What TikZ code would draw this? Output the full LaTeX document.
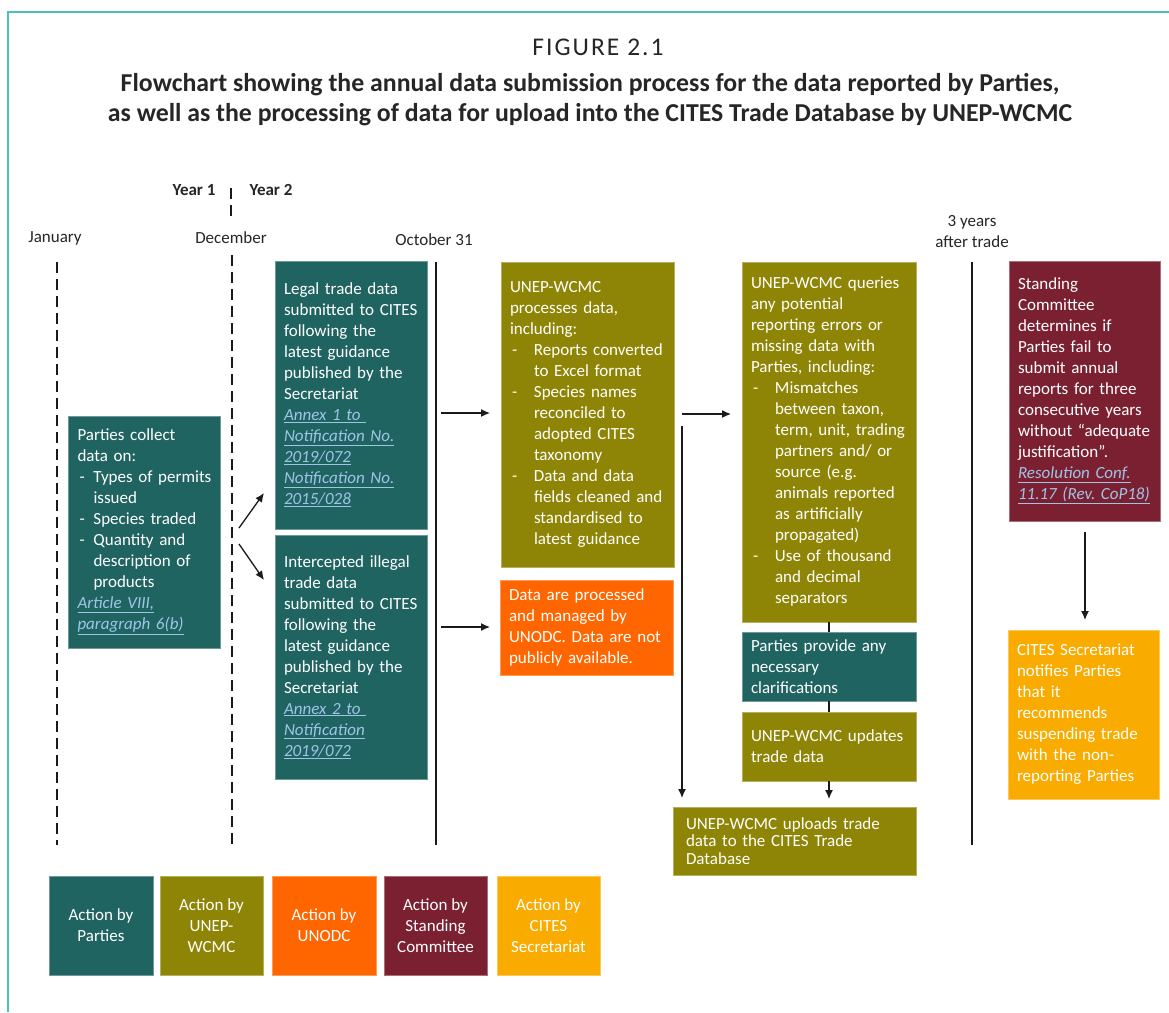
\documentclass[tikz,border=0pt]{standalone}
\usepackage{fontspec}
\setmainfont{Carlito}
\usetikzlibrary{arrows.meta}
\definecolor{cteal}{HTML}{1F6461}
\definecolor{colive}{HTML}{8E8506}
\definecolor{corange}{HTML}{FF6600}
\definecolor{cmaroon}{HTML}{7B2031}
\definecolor{camber}{HTML}{F9AB00}
\definecolor{clink}{HTML}{A0C4E8}
\definecolor{cborder}{HTML}{4FBFBA}
\definecolor{cline}{HTML}{1A1A1A}
\definecolor{ctext}{HTML}{262626}
\newcommand\bodyfont{\fontsize{17}{21}\selectfont}
\newcommand\itm[2][24pt]{\par\noindent\hangindent=#1\hangafter=1\makebox[#1][l]{\hspace{2pt}-}{\let\\\newline #2}\par}
\newcommand\lnk[1]{{\color{clink}\itshape\underline{#1}}}
\setlength\parskip{0pt}
\hyphenpenalty=10000
\exhyphenpenalty=10000
\frenchspacing
\begin{document}
\begin{tikzpicture}[x=1pt,y=-1pt,
  box/.style={rectangle, inner xsep=9pt, inner ysep=0pt, align=left, text=white, font=\bodyfont, line width=0.6pt},
  tealbox/.style={box, fill=cteal, draw=cteal!65!white},
  olivebox/.style={box, fill=colive, draw=colive!65!white},
  orangebox/.style={box, fill=corange, draw=corange!65!white},
  maroonbox/.style={box, fill=cmaroon, draw=cmaroon!65!white},
  amberbox/.style={box, fill=camber, draw=camber!65!white},
  legend/.style={align=center, minimum height=99pt, inner sep=0pt},
  lbl/.style={font=\bodyfont, text=ctext, inner sep=0pt},
  arr/.style={draw=cline, line width=1.3pt, -{Latex[length=9pt,width=8pt]}},
  dline/.style={draw=cline, line width=2pt, dash pattern=on 11pt off 6pt},
  sline/.style={draw=cline, line width=1.5pt},
  conn/.style={draw=cline, line width=1.3pt}]
\useasboundingbox (0,0) rectangle (1169,1012);
\fill[white] (0,0) rectangle (1169,1012);
\draw[cborder, line width=1.3pt] (8,1012) -- (8,12) -- (1169,12);

% title
\node[font=\fontsize{25.5}{25.5}\selectfont\addfontfeatures{LetterSpace=8}, text=ctext, inner sep=0pt] (fig) at (598,47) {FIGURE 2.1};
\node[font=\fontsize{25.8}{30}\selectfont\bfseries, text=ctext, align=center, inner sep=0pt] (title) at (590,100)
  {Flowchart showing the annual data submission process for the data reported by Parties,\\
   as well as the processing of data for upload into the CITES Trade Database by UNEP-WCMC};

% time labels
\node[lbl, font=\bodyfont\bfseries] (y1) at (194,190) {Year 1};
\node[lbl, font=\bodyfont\bfseries] (y2) at (271,190) {Year 2};
\node[lbl] (jan) at (55,238) {January};
\node[lbl] (dec) at (231,238) {December};
\node[lbl] (oct) at (434,240) {October 31};
\node[lbl, align=center, font=\fontsize{17}{21}\selectfont] (three) at (972,232) {3 years\\after trade};

% time lines
\coordinate (ytop) at (231,188);
\coordinate (ybot) at (231,220);
\draw[dline] (ytop) -- (ybot);
\coordinate (jantop) at (57,262);
\coordinate (janbot) at (57,845);
\draw[dline] (jantop) -- (janbot);
\coordinate (dectop) at (232,255);
\coordinate (decbot) at (232,845);
\draw[dline] (dectop) -- (decbot);
\coordinate (octtop) at (436,262);
\coordinate (octbot) at (436,845);
\draw[sline] (octtop) -- (octbot);
\coordinate (thrtop) at (972,262);
\coordinate (thrbot) at (972,845);
\draw[sline] (thrtop) -- (thrbot);

% boxes
\node[tealbox, text width=134pt, minimum height=232pt] (collect) at (144.5,532)
 {Parties collect\\data on:
  \itm[16pt]{Types of permits\\issued}
  \itm[16pt]{Species traded}
  \itm[16pt]{Quantity and\\description of\\products}
  \noindent\lnk{Article VIII,}\\\lnk{paragraph 6(b)}};

\node[tealbox, text width=134pt, minimum height=268pt] (legal) at (351,395)
 {Legal trade data\\submitted to CITES\\following the\\latest guidance\\published by the\\Secretariat\\
  \lnk{Annex 1 to }\\\lnk{Notification No.}\\\lnk{2019/072}\\\lnk{Notification No.}\\\lnk{2015/028}};

\node[tealbox, text width=134pt, minimum height=244pt] (illegal) at (351,657)
 {Intercepted illegal\\trade data\\submitted to CITES\\following the\\latest guidance\\published by the\\Secretariat\\
  \lnk{Annex 2 to }\\\lnk{Notification}\\\lnk{2019/072}};

\node[olivebox, text width=155pt, minimum height=305pt] (process) at (587.5,414.5)
 {UNEP-WCMC\\processes data,\\including:
  \itm{Reports converted\\to Excel format}
  \itm{Species names\\reconciled to\\adopted CITES\\taxonomy}
  \itm{Data and data\\fields cleaned and\\standardised to\\latest guidance}};

\node[orangebox, text width=155pt, minimum height=95pt] (unodc) at (586.5,627.5)
 {Data are processed\\and managed by\\UNODC. Data are not\\publicly available.};

\node[olivebox, text width=156pt, minimum height=360pt] (query) at (829,442)
 {UNEP-WCMC queries\\any potential\\reporting errors or\\missing data with\\Parties, including:
  \itm{Mismatches\\between taxon,\\term, unit, trading\\partners and/ or\\source (e.g.\\animals reported\\as artificially\\propagated)}
  \itm{Use of thousand\\and decimal\\separators}};

\node[tealbox, text width=156pt, minimum height=69pt] (clarify) at (829,666.5)
 {Parties provide any\\necessary\\clarifications};

\node[olivebox, text width=156pt, minimum height=69pt] (update) at (829,746.5)
 {UNEP-WCMC updates\\trade data};

\node[olivebox, text width=217pt, minimum height=68pt, inner xsep=13pt, font=\fontsize{17}{17.5}\selectfont] (upload) at (794.5,841)
 {UNEP-WCMC uploads trade\\data to the CITES Trade\\Database};

\node[maroonbox, text width=133pt, minimum height=260pt] (standing) at (1084.5,391)
 {Standing\\Committee\\determines if\\Parties fail to\\submit annual\\reports for three\\consecutive years\\without “adequate\\justification”.\\
  \lnk{Resolution Conf.}\\\lnk{11.17 (Rev. CoP18)}};

\node[amberbox, text width=133pt, minimum height=169pt] (secr) at (1083.5,714.5)
 {CITES Secretariat\\notifies Parties\\that it\\recommends\\suspending trade\\with the non-\\reporting Parties};

% connectors
\coordinate (a1s) at (239,528); \coordinate (a1e) at (264,493);
\coordinate (a2s) at (239,544); \coordinate (a2e) at (264,580);
\draw[arr] (a1s) -- (a1e);
\draw[arr] (a2s) -- (a2e);
\coordinate (a3s) at (441,413); \coordinate (a3e) at (490,413);
\draw[arr] (a3s) -- (a3e);
\coordinate (a4s) at (441,627); \coordinate (a4e) at (490,627);
\draw[arr] (a4s) -- (a4e);
\coordinate (a5s) at (682,414); \coordinate (a5e) at (731,414);
\draw[arr] (a5s) -- (a5e);
\coordinate (a6s) at (682,426); \coordinate (a6e) at (682,798);
\draw[arr] (a6s) -- (a6e);
\draw[conn] (query.south) -- (clarify.north);
\draw[conn] (clarify.south) -- (update.north);
\coordinate (a7e) at (829,799);
\draw[arr] (update.south) -- (a7e);
\coordinate (a8s) at (1085,532); \coordinate (a8e) at (1085,620);
\draw[arr] (a8s) -- (a8e);

% legend
\node[tealbox, legend, minimum width=104pt] (l1) at (101,925.5) {Action by\\Parties};
\node[olivebox, legend, minimum width=103pt] (l2) at (211.5,925.5) {Action by\\UNEP-\\WCMC};
\node[orangebox, legend, minimum width=104pt] (l3) at (324,925.5) {Action by\\UNODC};
\node[maroonbox, legend, minimum width=103pt] (l4) at (435.5,925.5) {Action by\\Standing\\Committee};
\node[amberbox, legend, minimum width=103pt] (l5) at (548.5,925.5) {Action by\\CITES\\Secretariat};
\end{tikzpicture}
\end{document}
